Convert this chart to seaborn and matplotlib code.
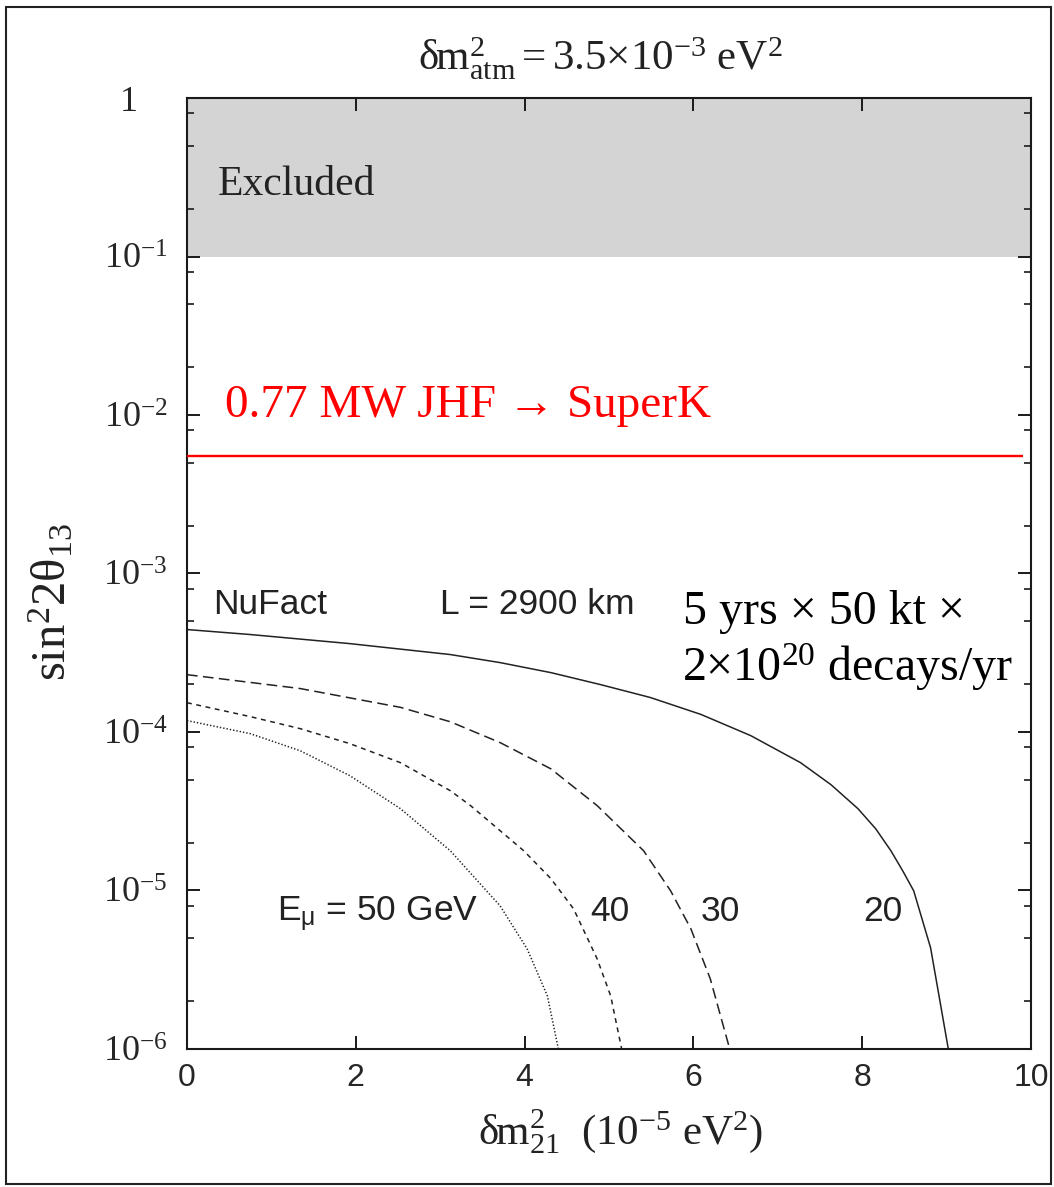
import numpy as np
import pandas as pd
import matplotlib
matplotlib.use("Agg")
import matplotlib.pyplot as plt
import matplotlib.transforms as mtransforms
from matplotlib.patches import Rectangle
from matplotlib.ticker import LogLocator, NullFormatter
import seaborn as sns

# ---- data -------------------------------------------------------------
# sensitivity curves, delta m^2_21 in units of 1e-5 eV^2
dm21_20 = [0.0, 0.75, 1.93, 3.12, 3.71, 4.31, 4.90, 5.49, 6.09, 6.68, 7.27, 7.63, 7.95,
           8.16, 8.34, 8.48, 8.61, 8.81, 8.90, 9.02]
sin2_20 = [4.43e-4, 4.12e-4, 3.61e-4, 3.08e-4, 2.74e-4, 2.37e-4, 1.99e-4, 1.65e-4,
           1.29e-4, 9.48e-5, 6.40e-5, 4.65e-5, 3.28e-5, 2.45e-5, 1.78e-5, 1.33e-5,
           9.95e-6, 4.35e-6, 2.32e-6, 1.0e-6]

dm21_30 = [0.0, 1.34, 2.53, 3.12, 3.71, 4.31, 4.86, 5.41, 5.73, 5.97, 6.20, 6.43]
sin2_30 = [2.30e-4, 1.88e-4, 1.43e-4, 1.16e-4, 8.57e-5, 5.86e-5, 3.43e-5, 1.78e-5,
           9.95e-6, 5.73e-6, 2.77e-6, 1.0e-6]

dm21_40 = [0.0, 0.75, 1.34, 1.93, 2.53, 3.12, 3.36, 3.99, 4.31, 4.58, 4.86, 5.02, 5.15]
sin2_40 = [1.53e-4, 1.25e-4, 1.05e-4, 8.44e-5, 6.40e-5, 4.26e-5, 3.43e-5, 1.78e-5,
           1.19e-5, 7.66e-6, 3.70e-6, 2.16e-6, 1.0e-6]

dm21_50 = [0.0, 0.75, 1.34, 1.93, 2.53, 3.12, 3.71, 4.03, 4.27, 4.40]
sin2_50 = [1.18e-4, 9.76e-5, 7.62e-5, 5.30e-5, 3.28e-5, 1.78e-5, 8.0e-6, 4.28e-6,
           2.16e-6, 1.0e-6]

energies = ["20", "30", "40", "50"]

jhf_limit = 5.5e-3          # 0.77 MW JHF -> SuperK reach
excluded_range = (0.1, 1.0)  # excluded sin^2 2theta_13

x_ticks = [0, 2, 4, 6, 8, 10]
y_ticks = [1e-6, 1e-5, 1e-4, 1e-3, 1e-2, 1e-1, 1]
y_ticklabels = [r"$\mathrm{10^{-6}}$", r"$\mathrm{10^{-5}}$", r"$\mathrm{10^{-4}}$",
                r"$\mathrm{10^{-3}}$", r"$\mathrm{10^{-2}}$", r"$\mathrm{10^{-1}}$", "1"]

# ---- style ------------------------------------------------------------
sns.set_style("ticks")
plt.rcParams.update({
    "font.family": ["Liberation Serif", "DejaVu Serif"],
    "mathtext.fontset": "custom",
    "mathtext.rm": "Liberation Serif",
    "mathtext.it": "Liberation Serif:italic",
    "mathtext.bf": "Liberation Serif:bold",
    "mathtext.sf": "Liberation Sans",
    "mathtext.fallback": "stix",
    "axes.edgecolor": "#1a1a1a",
    "axes.linewidth": 1.5,
})

frames = []
for e, xs, ys in [("20", dm21_20, sin2_20), ("30", dm21_30, sin2_30),
                  ("40", dm21_40, sin2_40), ("50", dm21_50, sin2_50)]:
    frames.append(pd.DataFrame({"dm21": xs, "sin2": ys, "E": e}))
df = pd.concat(frames, ignore_index=True)

fig = plt.figure(figsize=(10.54, 11.87), dpi=100)
ax = fig.add_axes([0.1774, 0.1163, 0.8008, 0.8011])

ax.axhspan(*excluded_range, color="#d4d4d4", lw=0, zorder=0)

sns.lineplot(data=df, x="dm21", y="sin2", hue="E", style="E",
             hue_order=energies, style_order=energies,
             palette={e: "#222222" for e in energies},
             dashes={"20": "", "30": (7, 3.5), "40": (3.2, 3.0), "50": (0.9, 1.3)},
             estimator=None, sort=False, lw=1.1, legend=False, ax=ax)

ax.hlines(jhf_limit, 0, 9.9, color="#ff0000", lw=1.7, zorder=3)

ax.set_yscale("log")
ax.set_xlim(0, 10)
ax.set_ylim(1e-6, 1)
ax.set_xlabel("")
ax.set_ylabel("")

ax.set_xticks(x_ticks)
ax.set_xticklabels([str(t) for t in x_ticks], family="Liberation Sans", fontsize=23)
ax.set_yticks(y_ticks)
ax.set_yticklabels(y_ticklabels, fontsize=26)
ax.yaxis.set_minor_locator(LogLocator(base=10, subs=(2, 5, 8)))
ax.yaxis.set_minor_formatter(NullFormatter())

ax.tick_params(which="both", direction="in", top=True, right=True, color="#1a1a1a")
ax.tick_params(which="major", length=9.5, width=1.4)
ax.tick_params(which="minor", length=5, width=1.2)
ax.tick_params(axis="x", pad=10)
ax.tick_params(axis="y", pad=14)

for sp in ax.spines.values():
    sp.set_visible(True)
    sp.set_linewidth(1.5)

# the top "1" label sits further left than the powers of ten
one = ax.get_yticklabels()[-1]
one.set_transform(one.get_transform() + mtransforms.ScaledTranslation(-0.30, 0, fig.dpi_scale_trans))

# ---- annotations ------------------------------------------------------
ax.text(0.36, 0.244, "Excluded", fontsize=30, va="baseline", ha="left", color="#222222")
ax.text(0.45, 9.7e-3, "0.77 MW JHF \u2192 SuperK", fontsize=34, va="baseline", ha="left",
        color="#ff0000", family=["Liberation Serif", "DejaVu Serif"])

sans = "Liberation Sans"
ax.text(0.31, 5.59e-4, "NuFact", fontsize=25.5, family=sans, va="baseline", color="#222222")
ax.text(3.0, 5.59e-4, "L = 2900 km", fontsize=25.5, family=sans, va="baseline", color="#222222")
ax.text(1.07, 6.43e-6, r"E$_{\mathsf{\mu}}$ = 50 GeV", fontsize=25.5, family=sans,
        va="baseline", color="#222222")
for label, xpos in [("40", 4.78), ("30", 6.09), ("20", 8.01)]:
    ax.text(xpos, 6.43e-6, label, fontsize=25.5, family=sans, va="baseline", color="#222222")

ax.text(5.88, 4.83e-4, "5 yrs \u00d7 50 kt \u00d7", fontsize=34.5, va="baseline", ha="left",
        color="black")
ax.text(5.87, 2.11e-4, "2\u00d710$^{\\mathrm{20}}$ decays/yr", fontsize=34.5, va="baseline",
        ha="left", color="black")

fig.text(600 / 1054, 1 - 70 / 1187,
         r"$\mathrm{\delta m}^{2}_{\mathrm{atm}} = 3.5{\times}10^{-3}\ \mathrm{eV}^{2}$",
         fontsize=31, ha="center", va="baseline", color="#222222")
fig.text(52 / 1054, 1 - 602 / 1187, r"$\mathrm{sin}^{2}\mathrm{2\theta}_{13}$", fontsize=35,
         rotation=90, ha="center", va="center", color="#222222")
fig.text(620 / 1054, 1 - 1145 / 1187,
         r"$\mathrm{\delta m}^{2}_{21}\ \ (10^{-5}\ \mathrm{eV}^{2})$",
         fontsize=31, ha="center", va="baseline", color="#222222")

fig.patches.append(Rectangle((0.0057, 0.0025), 0.9915, 0.9916, transform=fig.transFigure,
                             fill=False, lw=1.5, edgecolor="#222222"))

fig.savefig("out.png", dpi=100, facecolor="white")
